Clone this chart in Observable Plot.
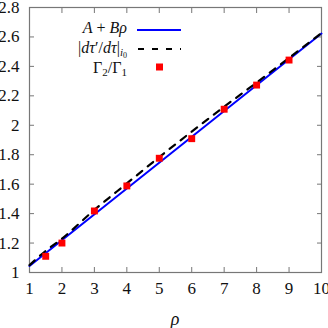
<!DOCTYPE html>
<html>
<head>
<meta charset="utf-8">
<script src="https://cdn.jsdelivr.net/npm/d3@7"></script>
<script src="https://cdn.jsdelivr.net/npm/@observablehq/plot@0.6"></script>
<style>
  html, body { margin: 0; padding: 0; background: #fff; }
  #wrap { position: relative; width: 328px; height: 328px; font-family: "Liberation Serif", "DejaVu Serif", serif; }
  #wrap svg { display: block; }
  #wrap svg, #wrap svg text { font-family: "Liberation Serif", "DejaVu Serif", serif !important; }
  #legend { position: absolute; left: 0; top: 0; width: 328px; height: 328px; pointer-events: none; }
  .lab { position: absolute; right: 201px; white-space: nowrap; font-size: 16px; line-height: 16px; color: #111; text-align: right; }
  .sw { position: absolute; left: 137px; }
  .xl { position: absolute; left: 0; width: 350px; text-align: center; top: 309px; font-size: 18px; font-style: italic; color: #111; }
  sub { font-size: 11px; vertical-align: -3px; line-height: 0; }
  sub sub { font-size: 8px; vertical-align: -2px; }
</style>
</head>
<body>
<div id="wrap"></div>
<script>
// ---- data ----
const lineRho = [1, 10];
const lineVal = [1.044, 2.623];                 // A + B rho
const dashRho = [1, 1.5, 2, 3, 4, 5, 6, 7, 8, 9, 10];
const dashVal = [1.05, 1.147, 1.23, 1.425, 1.605, 1.784, 1.957, 2.126, 2.29, 2.457, 2.627]; // |dτ'/dτ|
const ptRho = [1.5, 2, 3, 4, 5, 6, 7, 8, 9];
const ptVal = [1.110, 1.200, 1.418, 1.588, 1.776, 1.909, 2.109, 2.273, 2.443]; // Γ2/Γ1
const xTicks = [1, 2, 3, 4, 5, 6, 7, 8, 9, 10];
const yTicks = [1, 1.2, 1.4, 1.6, 1.8, 2, 2.2, 2.4, 2.6, 2.8];
const xLabel = "ρ";

const lineData = lineRho.map((r, i) => ({r, v: lineVal[i]}));
const dashData = dashRho.map((r, i) => ({r, v: dashVal[i]}));
const ptData = ptRho.map((r, i) => ({r, v: ptVal[i]}));

const frameCol = "#777";
const yFmt = d => String(+d.toFixed(1));

const chart = Plot.plot({
  width: 328,
  height: 328,
  marginLeft: 29,
  marginRight: 7,
  marginTop: 7,
  marginBottom: 56,
  style: {fontFamily: "'Liberation Serif', 'DejaVu Serif', serif", fontSize: "17px", color: "#111", background: "#fff"},
  x: {domain: [1, 10]},
  y: {domain: [1, 2.8]},
  marks: [
    Plot.frame({stroke: frameCol, strokeWidth: 1.2}),
    Plot.axisX({anchor: "bottom", ticks: xTicks, tickSize: -5, tickPadding: 14, stroke: frameCol, label: null, fontSize: 17}),
    Plot.axisX({anchor: "top", ticks: xTicks, tickSize: -5, tickFormat: () => "", stroke: frameCol, label: null}),
    Plot.axisY({anchor: "left", ticks: yTicks, tickSize: -5, tickPadding: 15, tickFormat: yFmt, stroke: frameCol, label: null, fontSize: 17}),
    Plot.axisY({anchor: "right", ticks: yTicks, tickSize: -5, tickFormat: () => "", stroke: frameCol, label: null}),
    Plot.line(lineData, {x: "r", y: "v", stroke: "#0000ff", strokeWidth: 2}),
    Plot.line(dashData, {x: "r", y: "v", stroke: "#000", strokeWidth: 2.2, strokeDasharray: "7,7", curve: "monotone-x"}),
    Plot.dot(ptData, {x: "r", y: "v", symbol: "square", r: 3.9, fill: "#ff0000", stroke: "none"})
  ]
});

const wrap = document.getElementById("wrap");
wrap.appendChild(chart);

const legend = document.createElement("div");
legend.id = "legend";
legend.innerHTML = `
  <div class="lab" style="top:20px"><i>A</i> + <i>Bρ</i></div>
  <svg class="sw" style="top:25px" width="45" height="10"><line x1="0" y1="5" x2="44" y2="5" stroke="#0000ff" stroke-width="2"/></svg>
  <div class="lab" style="top:40px">|<i>dτ</i>′/<i>dτ</i>|<sub><i>i</i><sub>0</sub></sub></div>
  <svg class="sw" style="top:44px" width="45" height="10"><line x1="1" y1="5" x2="44" y2="5" stroke="#000" stroke-width="2.2" stroke-dasharray="6,8"/></svg>
  <div class="lab" style="top:60px">Γ<sub>2</sub>/Γ<sub>1</sub></div>
  <svg class="sw" style="top:62px" width="45" height="10"><rect x="19" y="1.5" width="7" height="7" fill="#ff0000"/></svg>
  <div class="xl">${xLabel}</div>
`;
wrap.appendChild(legend);
</script>
</body>
</html>
